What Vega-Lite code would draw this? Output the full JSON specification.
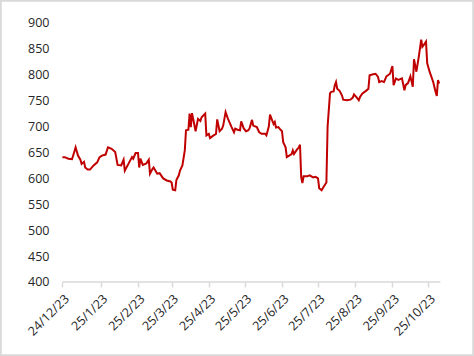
{
  "$schema": "https://vega.github.io/schema/vega-lite/v6.json",
  "width": 474,
  "height": 356,
  "autosize": "none",
  "padding": 0,
  "background": "white",
  "config": {
    "view": {"stroke": "#d9d9d9", "strokeWidth": 3.5},
    "font": "Open Sans",
    "axisX": {
      "title": null,
      "orient": "bottom",
      "offset": -74,
      "domain": false,
      "grid": false,
      "ticks": true,
      "tickSize": 5,
      "tickColor": "#d9d9d9",
      "tickWidth": 1.5,
      "labelAngle": -45,
      "labelPadding": 5,
      "labelFontSize": 12.5,
      "labelColor": "#262626",
      "labelFont": "Open Sans",
      "labelOverlap": false,
      "labelFlush": false
    },
    "axisY": {
      "title": null,
      "orient": "left",
      "offset": -62,
      "domain": false,
      "ticks": false,
      "grid": false,
      "labelPadding": 13,
      "labelFontSize": 12.5,
      "labelColor": "#262626",
      "labelFont": "Open Sans",
      "labelOverlap": false,
      "labelFlush": false
    }
  },
  "layer": [
    {
      "data": {"values": [{"start": "2022-12-24", "end": "2023-11-04", "base": 400}]},
      "mark": {"type": "rule", "color": "#d9d9d9", "strokeWidth": 1.5},
      "encoding": {
        "x": {
          "field": "start",
          "type": "temporal",
          "scale": {
            "type": "utc",
            "domain": [
              {"year": 2022, "month": 11, "date": 2, "utc": true},
              {"year": 2023, "month": 12, "date": 2, "utc": true}
            ]
          },
          "axis": {
            "title": null,
            "offset": -74,
            "labelExpr": "utcFormat(datum.value, '%-d/%-m/23')",
            "values": [
              {"year": 2022, "month": 12, "date": 24, "utc": true},
              {"year": 2023, "month": 1, "date": 25, "utc": true},
              {"year": 2023, "month": 2, "date": 25, "utc": true},
              {"year": 2023, "month": 3, "date": 25, "utc": true},
              {"year": 2023, "month": 4, "date": 25, "utc": true},
              {"year": 2023, "month": 5, "date": 25, "utc": true},
              {"year": 2023, "month": 6, "date": 25, "utc": true},
              {"year": 2023, "month": 7, "date": 25, "utc": true},
              {"year": 2023, "month": 8, "date": 25, "utc": true},
              {"year": 2023, "month": 9, "date": 25, "utc": true},
              {"year": 2023, "month": 10, "date": 25, "utc": true}
            ]
          }
        },
        "x2": {"field": "end"},
        "y": {
          "field": "base",
          "type": "quantitative",
          "scale": {"domain": [257.1, 944.4], "nice": false, "zero": false},
          "axis": {
            "title": null,
            "offset": -62,
            "values": [400, 450, 500, 550, 600, 650, 700, 750, 800, 850, 900]
          }
        }
      }
    },
    {
      "data": {"values": [
        {"date":"2022-12-24","price":641},{"date":"2022-12-26","price":641},{"date":"2022-12-29","price":638},
        {"date":"2023-01-01","price":637},{"date":"2023-01-03","price":652},{"date":"2023-01-04","price":660},
        {"date":"2023-01-06","price":644},{"date":"2023-01-08","price":636},{"date":"2023-01-09","price":628},
        {"date":"2023-01-11","price":632},{"date":"2023-01-12","price":621},{"date":"2023-01-14","price":617},
        {"date":"2023-01-16","price":617},{"date":"2023-01-19","price":625},{"date":"2023-01-22","price":631},
        {"date":"2023-01-24","price":641},{"date":"2023-01-26","price":644},{"date":"2023-01-29","price":646},
        {"date":"2023-01-31","price":660},{"date":"2023-02-03","price":657},{"date":"2023-02-06","price":651},
        {"date":"2023-02-08","price":626},{"date":"2023-02-11","price":625},{"date":"2023-02-13","price":636},
        {"date":"2023-02-14","price":615},{"date":"2023-02-17","price":628},{"date":"2023-02-20","price":641},
        {"date":"2023-02-21","price":638},{"date":"2023-02-23","price":649},{"date":"2023-02-25","price":649},
        {"date":"2023-02-26","price":621},{"date":"2023-02-27","price":638},{"date":"2023-03-01","price":626},
        {"date":"2023-03-04","price":629},{"date":"2023-03-06","price":636},{"date":"2023-03-07","price":609},
        {"date":"2023-03-09","price":618},{"date":"2023-03-10","price":621},{"date":"2023-03-13","price":609},
        {"date":"2023-03-15","price":610},{"date":"2023-03-18","price":600},{"date":"2023-03-21","price":596},
        {"date":"2023-03-24","price":594},{"date":"2023-03-25","price":592},{"date":"2023-03-26","price":578},
        {"date":"2023-03-28","price":577},{"date":"2023-03-29","price":597},{"date":"2023-03-31","price":606},
        {"date":"2023-04-01","price":615},{"date":"2023-04-03","price":625},{"date":"2023-04-05","price":654},
        {"date":"2023-04-06","price":693},{"date":"2023-04-08","price":694},{"date":"2023-04-09","price":725},
        {"date":"2023-04-10","price":699},{"date":"2023-04-11","price":726},{"date":"2023-04-13","price":703},
        {"date":"2023-04-14","price":691},{"date":"2023-04-16","price":715},{"date":"2023-04-18","price":711},
        {"date":"2023-04-19","price":718},{"date":"2023-04-22","price":725},{"date":"2023-04-23","price":683},
        {"date":"2023-04-25","price":686},{"date":"2023-04-26","price":678},{"date":"2023-04-29","price":683},
        {"date":"2023-05-01","price":686},{"date":"2023-05-02","price":714},{"date":"2023-05-04","price":691},
        {"date":"2023-05-06","price":696},{"date":"2023-05-07","price":702},{"date":"2023-05-09","price":728},
        {"date":"2023-05-11","price":715},{"date":"2023-05-14","price":699},{"date":"2023-05-16","price":689},
        {"date":"2023-05-17","price":696},{"date":"2023-05-19","price":694},{"date":"2023-05-21","price":693},
        {"date":"2023-05-22","price":710},{"date":"2023-05-24","price":697},{"date":"2023-05-26","price":691},
        {"date":"2023-05-28","price":693},{"date":"2023-05-29","price":697},{"date":"2023-05-31","price":713},
        {"date":"2023-06-01","price":702},{"date":"2023-06-04","price":699},{"date":"2023-06-06","price":689},
        {"date":"2023-06-08","price":686},{"date":"2023-06-11","price":686},{"date":"2023-06-12","price":683},
        {"date":"2023-06-14","price":700},{"date":"2023-06-15","price":723},{"date":"2023-06-16","price":717},
        {"date":"2023-06-18","price":705},{"date":"2023-06-19","price":709},{"date":"2023-06-20","price":698},
        {"date":"2023-06-22","price":699},{"date":"2023-06-23","price":696},{"date":"2023-06-25","price":691},
        {"date":"2023-06-26","price":670},{"date":"2023-06-28","price":660},{"date":"2023-06-29","price":641},
        {"date":"2023-07-01","price":644},{"date":"2023-07-03","price":647},{"date":"2023-07-04","price":654},
        {"date":"2023-07-05","price":647},{"date":"2023-07-07","price":654},{"date":"2023-07-09","price":660},
        {"date":"2023-07-10","price":665},{"date":"2023-07-11","price":602},{"date":"2023-07-12","price":591},
        {"date":"2023-07-13","price":604},{"date":"2023-07-16","price":604},{"date":"2023-07-18","price":606},
        {"date":"2023-07-21","price":602},{"date":"2023-07-23","price":603},{"date":"2023-07-25","price":600},
        {"date":"2023-07-26","price":581},{"date":"2023-07-28","price":577},{"date":"2023-07-30","price":585},
        {"date":"2023-08-01","price":592},{"date":"2023-08-02","price":700},{"date":"2023-08-04","price":764},
        {"date":"2023-08-05","price":767},{"date":"2023-08-07","price":768},{"date":"2023-08-08","price":780},
        {"date":"2023-08-09","price":786},{"date":"2023-08-10","price":773},{"date":"2023-08-12","price":769},
        {"date":"2023-08-14","price":760},{"date":"2023-08-15","price":752},{"date":"2023-08-18","price":751},
        {"date":"2023-08-21","price":752},{"date":"2023-08-23","price":756},{"date":"2023-08-24","price":762},
        {"date":"2023-08-26","price":757},{"date":"2023-08-28","price":751},{"date":"2023-08-29","price":757},
        {"date":"2023-08-31","price":764},{"date":"2023-09-03","price":769},{"date":"2023-09-05","price":773},
        {"date":"2023-09-06","price":799},{"date":"2023-09-09","price":801},{"date":"2023-09-11","price":802},
        {"date":"2023-09-13","price":796},{"date":"2023-09-14","price":786},{"date":"2023-09-16","price":788},
        {"date":"2023-09-18","price":786},{"date":"2023-09-20","price":797},{"date":"2023-09-23","price":802},
        {"date":"2023-09-25","price":817},{"date":"2023-09-26","price":780},{"date":"2023-09-28","price":793},
        {"date":"2023-09-30","price":790},{"date":"2023-10-01","price":791},{"date":"2023-10-03","price":793},
        {"date":"2023-10-05","price":770},{"date":"2023-10-06","price":780},{"date":"2023-10-08","price":784},
        {"date":"2023-10-10","price":797},{"date":"2023-10-12","price":777},{"date":"2023-10-13","price":830},
        {"date":"2023-10-15","price":806},{"date":"2023-10-17","price":835},{"date":"2023-10-19","price":868},
        {"date":"2023-10-20","price":854},{"date":"2023-10-21","price":857},{"date":"2023-10-23","price":864},
        {"date":"2023-10-24","price":822},{"date":"2023-10-26","price":806},{"date":"2023-10-29","price":786},
        {"date":"2023-10-31","price":767},{"date":"2023-11-01","price":759},{"date":"2023-11-02","price":790},
        {"date":"2023-11-03","price":783}
      ]},
      "mark": {"type": "line", "color": "#c00000", "strokeWidth": 2},
      "encoding": {
        "x": {
          "field": "date",
          "type": "temporal",
          "scale": {
            "type": "utc",
            "domain": [
              {"year": 2022, "month": 11, "date": 2, "utc": true},
              {"year": 2023, "month": 12, "date": 2, "utc": true}
            ]
          },
          "axis": {
            "title": null,
            "offset": -74,
            "labelExpr": "utcFormat(datum.value, '%-d/%-m/23')",
            "values": [
              {"year": 2022, "month": 12, "date": 24, "utc": true},
              {"year": 2023, "month": 1, "date": 25, "utc": true},
              {"year": 2023, "month": 2, "date": 25, "utc": true},
              {"year": 2023, "month": 3, "date": 25, "utc": true},
              {"year": 2023, "month": 4, "date": 25, "utc": true},
              {"year": 2023, "month": 5, "date": 25, "utc": true},
              {"year": 2023, "month": 6, "date": 25, "utc": true},
              {"year": 2023, "month": 7, "date": 25, "utc": true},
              {"year": 2023, "month": 8, "date": 25, "utc": true},
              {"year": 2023, "month": 9, "date": 25, "utc": true},
              {"year": 2023, "month": 10, "date": 25, "utc": true}
            ]
          }
        },
        "y": {
          "field": "price",
          "type": "quantitative",
          "scale": {"domain": [257.1, 944.4], "nice": false, "zero": false},
          "axis": {
            "title": null,
            "offset": -62,
            "values": [400, 450, 500, 550, 600, 650, 700, 750, 800, 850, 900]
          }
        }
      }
    }
  ]
}
